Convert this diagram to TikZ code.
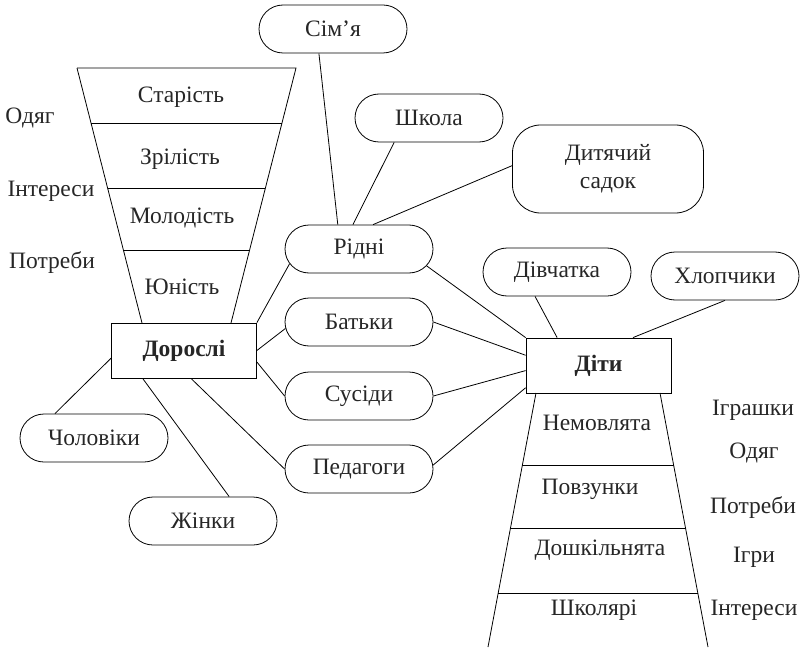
\documentclass[tikz,border=0pt]{standalone}
\usepackage{fontspec}
\setmainfont{Liberation Serif}
\usetikzlibrary{calc,shapes.misc}

\begin{document}
\begin{tikzpicture}[x=1pt,y=-1pt,line width=0.8pt,
  every node/.style={font=\fontsize{23.5}{28}\selectfont,text=black!85},
  pill/.style={draw,rounded rectangle,minimum width=148pt,minimum height=48pt,inner sep=0pt},
  boxnode/.style={draw,rectangle,minimum width=145pt,minimum height=55pt,inner sep=0pt,
    font=\fontsize{23.5}{28}\selectfont\bfseries}]
\useasboundingbox (0,0) rectangle (802,647);

% Main boxes
\node[boxnode] (dor) at (184,350.5) {Дорослі};
\node[boxnode] (dit) at (598.5,365.5) {Діти};

% Adults funnel
\draw (77,68) -- (296,68) -- (231,323);
\draw (77,68) -- (142,323);
\draw (91,123) -- (282,123);
\draw (107.6,188) -- (265.4,188);
\draw (123.4,250) -- (249.6,250);
\node (star) at (181,97) {Старість};
\node (zril) at (180,159) {Зрілість};
\node (mol) at (182,218) {Молодість};
\node (yun) at (182,287) {Юність};
\node (odl) at (30,118) {Одяг};
\node (intl) at (51,191) {Інтереси};
\node (potl) at (52,263) {Потреби};

% Children funnel
\draw (536,393) -- (488,647);
\draw (660,393) -- (708,647);
\draw (522.4,465) -- (673.6,465);
\draw (510.5,528) -- (685.5,528);
\draw (498.2,593) -- (697.8,593);
\node (nem) at (597,423) {Немовлята};
\node (povz) at (590,489) {Повзунки};
\node (dosh) at (600,550) {Дошкільнята};
\node (shkol) at (594,610) {Школярі};
\node (igrash) at (753,410) {Іграшки};
\node (odr) at (754,453) {Одяг};
\node (potr) at (753,508) {Потреби};
\node (igry) at (754,557) {Ігри};
\node (intr) at (754,610) {Інтереси};

% Surroundings
\node[pill] (sim) at (333,29) {Сім’я};
\node[pill] (shk) at (429,118) {Школа};
\node[draw,rounded corners=28pt,minimum width=191pt,minimum height=88pt,inner sep=0pt,
  align=center] (sad) at (608,169) {Дитячий\\садок};
\node[pill] (rid) at (359,249) {Рідні};
\node[pill] (bat) at (359,322) {Батьки};
\node[pill] (sus) at (359,396) {Сусіди};
\node[pill] (ped) at (359,469) {Педагоги};
\node[pill] (chol) at (94,438) {Чоловіки};
\node[pill] (zhin) at (203,521) {Жінки};
\node[pill] (div) at (557,272) {Дівчатка};
\node[pill] (khl) at (725,276) {Хлопчики};

% Links
\draw (sim.240) -- (rid.131);
\draw (shk.215) -- (rid.104);
\draw (sad.178) -- (rid.60);
\draw (rid.192) -- (dor.north east);
\draw (bat.185) -- (dor.east);
\draw (sus.west) -- (dor.351);
\draw (ped.west) -- (dor.284);
\draw (chol.148) -- (dor.186);
\draw (zhin.43) -- (dor.214);
\draw (rid.346) -- (dit.north west);
\draw (bat.east) -- (dit.172);
\draw (sus.east) -- (dit.184);
\draw (ped.3) -- (dit.197);
\draw (div.228) -- (dit.146);
\draw (khl.south) -- (dit.39);
\end{tikzpicture}
\end{document}
